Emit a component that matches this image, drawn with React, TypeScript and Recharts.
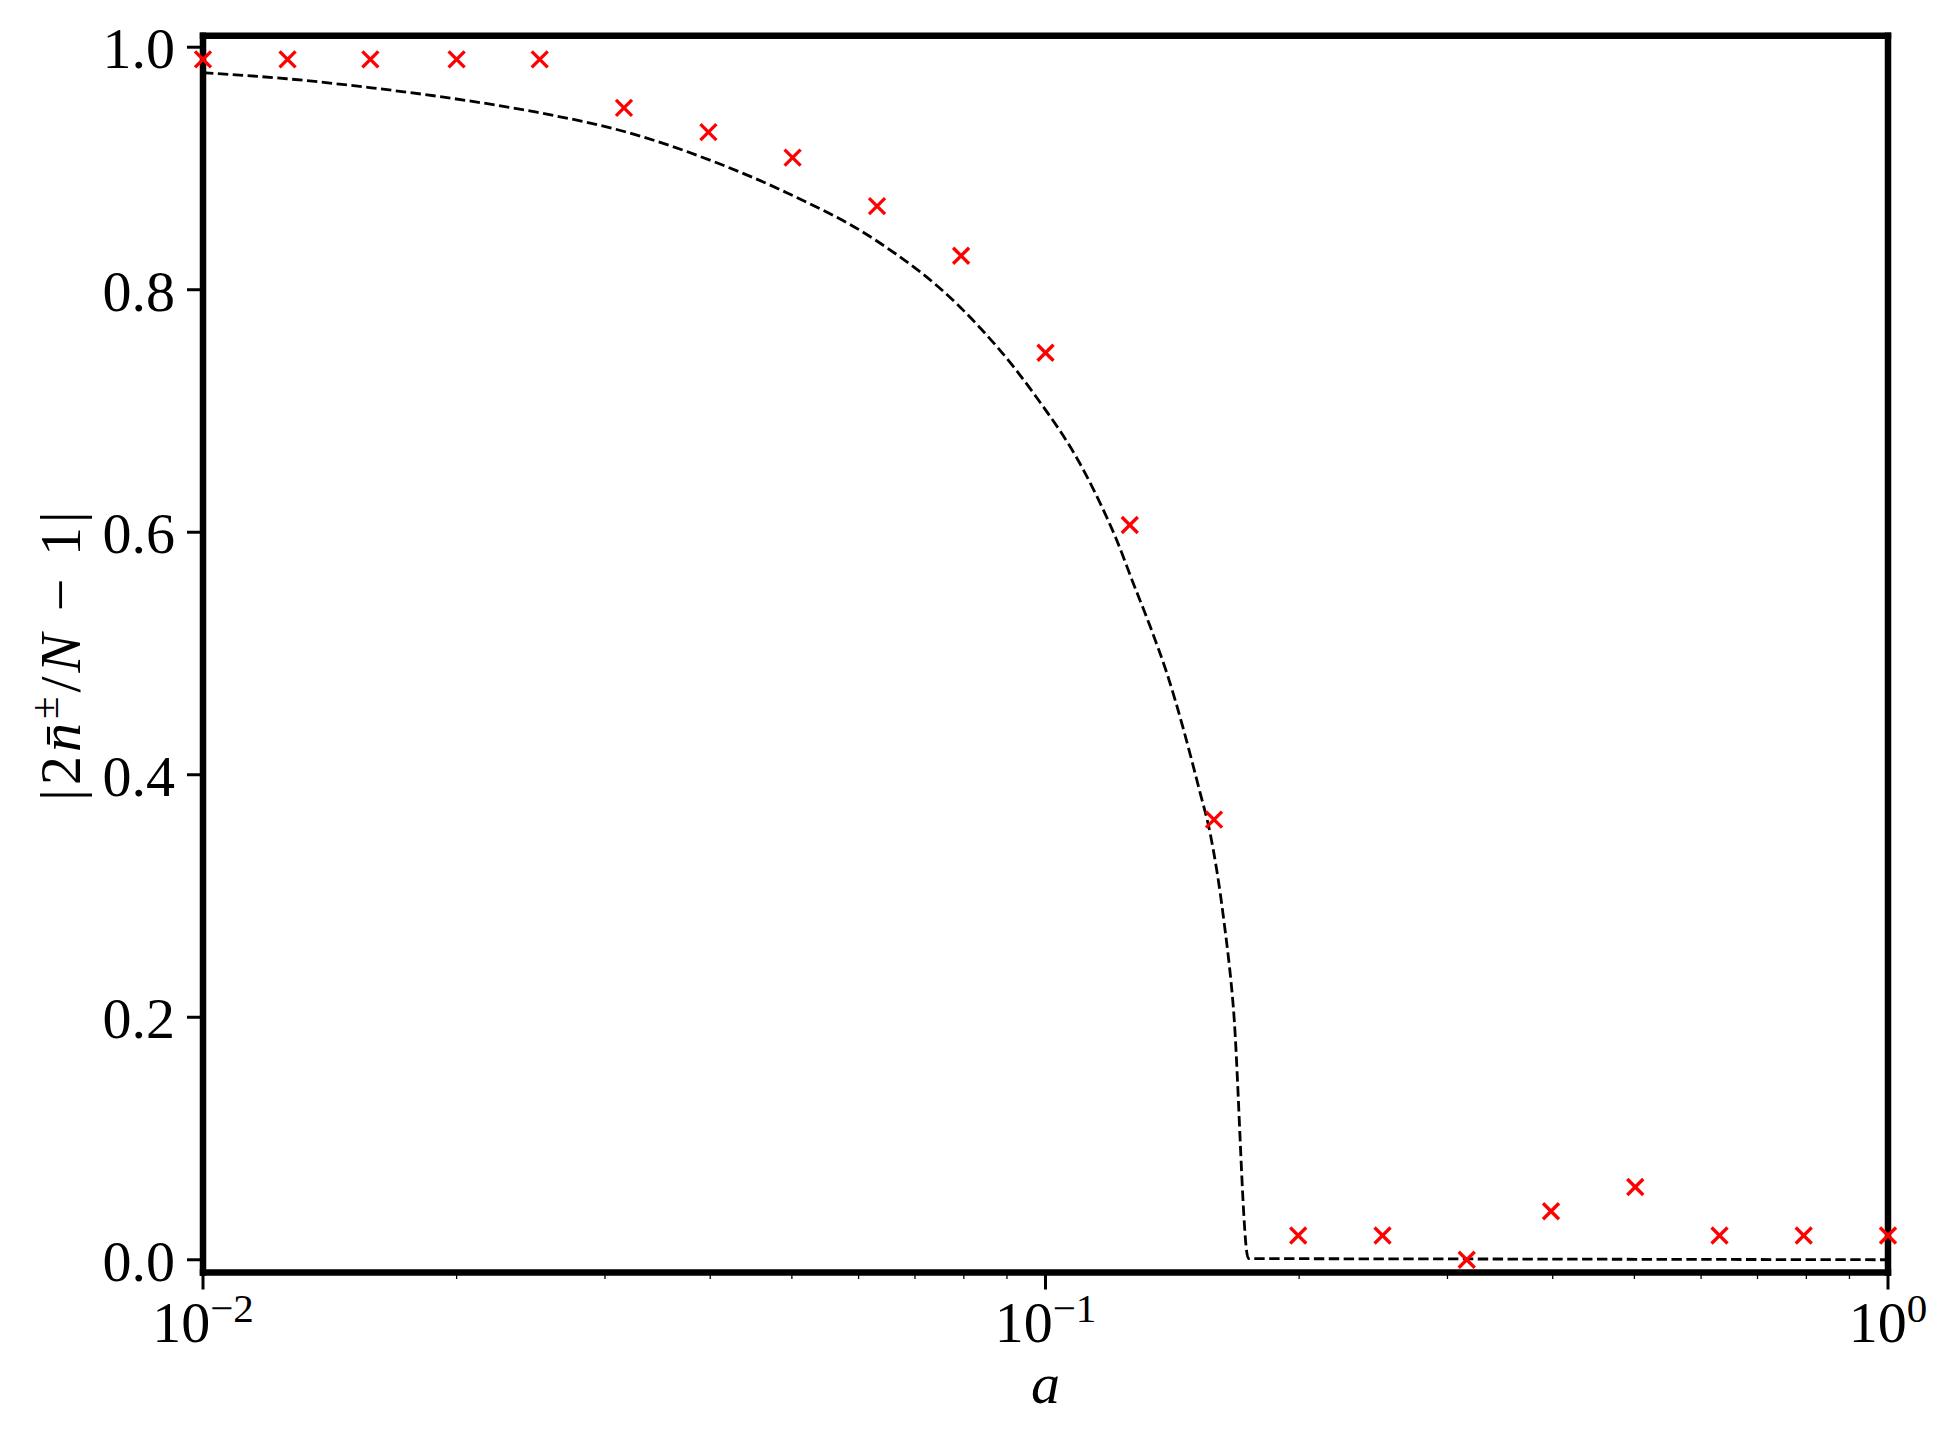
import { ComposedChart, Line, Scatter, XAxis, YAxis } from 'recharts';

// measured points (red crosses)
const pointA = [
  0.01, 0.0126, 0.0158, 0.02, 0.0251, 0.0316, 0.0398, 0.0501, 0.0631, 0.0794, 0.1,
  0.1259, 0.1585, 0.1995, 0.2512, 0.3162, 0.3981, 0.5012, 0.631, 0.7943, 1.0,
];
const pointM = [
  0.99, 0.99, 0.99, 0.99, 0.99, 0.95, 0.93, 0.909, 0.869, 0.828, 0.748,
  0.606, 0.363, 0.02, 0.02, 0.0, 0.04, 0.06, 0.02, 0.02, 0.02,
];

// theory curve (dashed)
const curveA = [
  0.01, 0.01257, 0.01585, 0.01982, 0.02489, 0.03162, 0.04072, 0.0493, 0.0625, 0.0791, 0.0967,
  0.1109, 0.1161, 0.1214, 0.1271, 0.133, 0.1393, 0.1526, 0.1568, 0.1626, 0.1671, 0.1741,
  0.3, 1.0,
];
const curveM = [
  0.979, 0.974, 0.9665, 0.9577, 0.9464, 0.9305, 0.9047, 0.88, 0.842, 0.786, 0.715,
  0.6515, 0.624, 0.594, 0.558, 0.523, 0.484, 0.385, 0.352, 0.283, 0.208, 0.001,
  0.0007, 0.0,
];

const xMajor = [0.01, 0.1, 1];
const xMinor = [
  0.02, 0.03, 0.04, 0.05, 0.06, 0.07, 0.08, 0.09,
  0.2, 0.3, 0.4, 0.5, 0.6, 0.7, 0.8, 0.9,
];
const yTicks = [0, 0.2, 0.4, 0.6, 0.8, 1.0];

const points = pointA.map((a, i) => ({ a, v: pointM[i] }));
const curve = curveA.map((a, i) => ({ a, v: curveM[i] }));

const FONT = '"Liberation Serif", "DejaVu Serif", serif';
const FS = 58;
const SPINE = 6.5;

const XTick = ({ x, y, payload }: any) => {
  const v = payload.value;
  const isMajor = xMajor.some((m) => Math.abs(m - v) < 1e-9);
  if (!isMajor) {
    return <line x1={x} x2={x} y1={y} y2={y + 6.5} stroke="#000" strokeWidth={1.3} />;
  }
  const exp = Math.round(Math.log10(v));
  return (
    <g>
      <line x1={x} x2={x} y1={y} y2={y + 17} stroke="#000" strokeWidth={3} />
      <text x={x} y={y + 69.5} textAnchor="middle" fontFamily={FONT} fontSize={FS} fill="#000">
        10
        <tspan dy={-20} fontSize={41}>{exp < 0 ? `\u2212${-exp}` : `${exp}`}</tspan>
      </text>
    </g>
  );
};

const YTick = ({ x, y, payload }: any) => (
  <g>
    <line x1={x} x2={x - 16} y1={y} y2={y} stroke="#000" strokeWidth={3} />
    <text x={x - 28} y={y + 21} textAnchor="end" fontFamily={FONT} fontSize={FS} fill="#000">
      {payload.value.toFixed(1)}
    </text>
  </g>
);

const Cross = ({ cx, cy }: any) => {
  const h = 8;
  return (
    <g>
      <line x1={cx - h} y1={cy - h} x2={cx + h} y2={cy + h} stroke="#ff0000" strokeWidth={3.3} />
      <line x1={cx - h} y1={cy + h} x2={cx + h} y2={cy - h} stroke="#ff0000" strokeWidth={3.3} />
    </g>
  );
};

const spine = { stroke: '#000', strokeWidth: SPINE, strokeLinecap: 'square' as const };

export default function App() {
  return (
    <div style={{ position: 'absolute', left: 0, top: 0, width: 1944, height: 1431, background: '#fff' }}>
      <ComposedChart
        width={1944}
        height={1431}
        margin={{ top: 34.7, right: 55, bottom: 157.5, left: 202 }}
      >
        <XAxis
          xAxisId="main"
          dataKey="a"
          type="number"
          scale="log"
          domain={[0.01, 1]}
          ticks={[...xMajor, ...xMinor]}
          interval={0}
          height={1}
          tickSize={0}
          tickMargin={0}
          tickLine={false}
          axisLine={spine}
          tick={<XTick />}
        />
        <XAxis
          xAxisId="top"
          orientation="top"
          type="number"
          scale="log"
          domain={[0.01, 1]}
          height={1}
          tick={false}
          tickLine={false}
          axisLine={spine}
        />
        <YAxis
          yAxisId="main"
          type="number"
          domain={[-0.0105, 1.0095]}
          ticks={yTicks}
          interval={0}
          width={1}
          tickSize={0}
          tickMargin={0}
          tickLine={false}
          axisLine={spine}
          tick={<YTick />}
        />
        <YAxis
          yAxisId="right"
          orientation="right"
          type="number"
          domain={[-0.0105, 1.0095]}
          width={1}
          tick={false}
          tickLine={false}
          axisLine={spine}
        />
        <Line
          xAxisId="main"
          yAxisId="main"
          data={curve}
          dataKey="v"
          type="monotone"
          stroke="#000"
          strokeWidth={2.8}
          strokeDasharray="10.4 4.5"
          dot={false}
          activeDot={false}
          isAnimationActive={false}
        />
        <Scatter
          xAxisId="main"
          yAxisId="main"
          data={points}
          dataKey="v"
          shape={<Cross />}
          isAnimationActive={false}
        />
      </ComposedChart>
      <svg
        width={1944}
        height={1431}
        style={{ position: 'absolute', left: 0, top: 0, pointerEvents: 'none' }}
      >
        <text x={1045.5} y={1403} textAnchor="middle" fontFamily={FONT} fontStyle="italic" fontSize={FS}>
          a
        </text>
        <text
          transform="translate(80, 654) rotate(-90)"
          textAnchor="middle"
          fontFamily={FONT}
          fontSize={FS}
          letterSpacing={4}
        >
          |2<tspan fontStyle="italic">n&#772;</tspan>
          <tspan dy={-22} fontSize={41}>±</tspan>
          <tspan dy={22}>/</tspan>
          <tspan fontStyle="italic">N</tspan>
          {' \u2212 1|'}
        </text>
      </svg>
    </div>
  );
}
